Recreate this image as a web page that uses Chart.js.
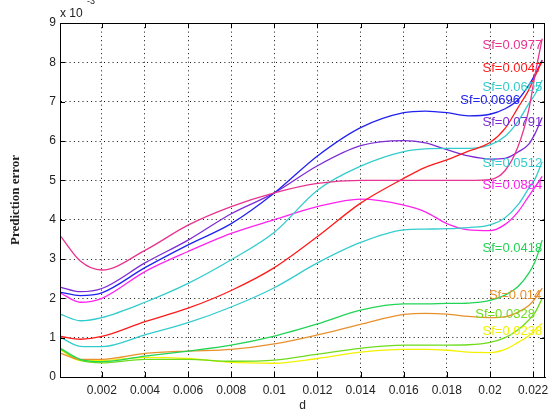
<!DOCTYPE html>
<html>
<head>
<meta charset="utf-8">
<script src="https://cdn.jsdelivr.net/npm/chart.js@4/dist/chart.umd.min.js"></script>
<style>
  html, body { margin: 0; padding: 0; background: #fff; }
  #wrap { width: 555px; height: 416px; }
</style>
</head>
<body>
<div id="wrap"><canvas id="c" width="555" height="416"></canvas></div>
<script>
// d values (x axis) shared by every curve
const dValues = [0.0001, 0.001, 0.002, 0.004, 0.006, 0.008, 0.010, 0.012, 0.014, 0.016,
                 0.017, 0.018, 0.019, 0.020, 0.0207, 0.0213, 0.0218, 0.0221, 0.02242];

// prediction error, in units of 1e-3
const errSf0977 = [3.57, 2.95, 2.72, 3.22, 3.86, 4.33, 4.68, 4.92, 5.0, 5.0, 5.0, 5.0, 5.0, 5.02, 5.25, 5.86, 6.8, 7.72, 8.6];
const errSf0047 = [1.03, 0.96, 1.03, 1.41, 1.75, 2.2, 2.78, 3.57, 4.42, 5.05, 5.33, 5.52, 5.74, 5.96, 6.32, 6.85, 7.3, 7.66, 8.05];
const errSf0605 = [1.59, 1.43, 1.51, 1.9, 2.38, 2.98, 3.68, 4.75, 5.36, 5.73, 5.8, 5.81, 5.81, 5.9, 6.12, 6.5, 6.95, 7.2, 7.55];
const errSf0696 = [2.15, 2.07, 2.14, 2.78, 3.36, 3.9, 4.68, 5.62, 6.34, 6.72, 6.76, 6.72, 6.64, 6.68, 6.82, 7.05, 7.42, 7.7, 8.06];
const errSf0791 = [2.28, 2.17, 2.25, 2.9, 3.48, 4.15, 4.68, 5.37, 5.88, 6.01, 5.95, 5.78, 5.62, 5.54, 5.56, 5.72, 5.92, 6.2, 6.6];
const errSf0512 = [1.0, 0.78, 0.77, 1.07, 1.38, 1.78, 2.27, 2.9, 3.42, 3.74, 3.76, 3.77, 3.8, 3.87, 4.05, 4.38, 4.8, 5.05, 5.47];
const errSf0884 = [2.13, 1.9, 2.0, 2.68, 3.19, 3.65, 4.0, 4.33, 4.52, 4.37, 4.2, 3.9, 3.74, 3.72, 3.88, 4.2, 4.6, 4.84, 5.1];
const errSf0418 = [0.72, 0.45, 0.39, 0.53, 0.66, 0.81, 1.04, 1.35, 1.7, 1.86, 1.86, 1.87, 1.88, 1.95, 2.08, 2.3, 2.64, 2.95, 3.48];
const errSf014  = [0.6, 0.45, 0.45, 0.6, 0.66, 0.7, 0.84, 1.07, 1.34, 1.59, 1.62, 1.6, 1.54, 1.51, 1.53, 1.65, 1.82, 2.0, 2.26];
const errSf0328 = [0.7, 0.42, 0.36, 0.45, 0.45, 0.4, 0.43, 0.58, 0.73, 0.81, 0.81, 0.81, 0.82, 0.88, 1.0, 1.2, 1.45, 1.65, 2.0];
const errSf0238 = [0.68, 0.42, 0.42, 0.5, 0.47, 0.37, 0.35, 0.47, 0.63, 0.7, 0.7, 0.68, 0.63, 0.62, 0.7, 0.88, 1.05, 1.2, 1.37];

const sfNames = ["Sf=0.0977", "Sf=0.0047", "Sf=0.0605", "Sf=0.0696", "Sf=0.0791", "Sf=0.0512",
                 "Sf=0.0884", "Sf=0.0418", "Sf=0.014", "Sf=0.0328", "Sf=0.0238"];
const sfSeries = [errSf0977, errSf0047, errSf0605, errSf0696, errSf0791, errSf0512,
                  errSf0884, errSf0418, errSf014, errSf0328, errSf0238];

const xTicks = [0.002, 0.004, 0.006, 0.008, 0.010, 0.012, 0.014, 0.016, 0.018, 0.020, 0.022];
const yTicks = [0, 1, 2, 3, 4, 5, 6, 7, 8, 9];

// where the "Sf=" labels sit (right edge d, middle y)
const labelD = [0.02242, 0.02242, 0.02242, 0.02139, 0.02242, 0.02242, 0.02242, 0.02242, 0.02238, 0.02208, 0.02242];
const labelY = [8.42, 7.85, 7.37, 7.03, 6.47, 5.43, 4.88, 3.27, 2.08, 1.59, 1.15];

const colors = ["#e8338f", "#ff1a1a", "#33cccc", "#2222f0", "#7d2bd4", "#33cccc",
                "#ff22ee", "#22d455", "#e8902c", "#6edc1c", "#f2f200"];

const datasets = sfSeries.map((vals, i) => ({
  label: sfNames[i],
  data: vals.map((v, j) => ({ x: dValues[j], y: v })),
  borderColor: colors[i],
  borderWidth: 1.3,
  pointRadius: 0,
  fill: false,
  cubicInterpolationMode: "monotone"
}));

const decor = {
  id: "decor",
  afterDraw(chart) {
    const ctx = chart.ctx, a = chart.chartArea;
    const xs = chart.scales.x, ys = chart.scales.y;
    ctx.save();
    // box
    ctx.strokeStyle = "#000";
    ctx.lineWidth = 1;
    ctx.strokeRect(a.left + 0.5, a.top + 0.5, a.right - a.left - 1, a.bottom - a.top);
    // inward ticks
    ctx.beginPath();
    xTicks.forEach(t => {
      const px = Math.round(xs.getPixelForValue(t)) + 0.5;
      ctx.moveTo(px, a.bottom); ctx.lineTo(px, a.bottom - 5);
      ctx.moveTo(px, a.top); ctx.lineTo(px, a.top + 5);
    });
    yTicks.forEach(t => {
      const py = Math.round(ys.getPixelForValue(t)) + 0.5;
      ctx.moveTo(a.left, py); ctx.lineTo(a.left + 5, py);
      ctx.moveTo(a.right, py); ctx.lineTo(a.right - 5, py);
    });
    ctx.stroke();

    // curve labels
    ctx.font = "13px Arial, 'Liberation Sans', sans-serif";
    ctx.textAlign = "right";
    ctx.textBaseline = "middle";
    sfNames.forEach((n, i) => {
      ctx.fillStyle = colors[i];
      ctx.fillText(n, xs.getPixelForValue(labelD[i]), ys.getPixelForValue(labelY[i]));
    });

    // exponent
    ctx.fillStyle = "#222";
    ctx.textAlign = "left";
    ctx.textBaseline = "alphabetic";
    ctx.font = "12px Arial, 'Liberation Sans', sans-serif";
    ctx.fillText("x 10", a.left, 17);
    ctx.font = "9px Arial, 'Liberation Sans', sans-serif";
    ctx.fillText("-3", a.left + 27, 4);

    // axis titles
    ctx.font = "12px Arial, 'Liberation Sans', sans-serif";
    ctx.textAlign = "center";
    ctx.fillText("d", (a.left + a.right) / 2, 409);
    ctx.translate(16, (a.top + a.bottom) / 2);
    ctx.rotate(-Math.PI / 2);
    ctx.font = "bold 13px 'Times New Roman', 'Liberation Serif', serif";
    ctx.textBaseline = "middle";
    ctx.fillText("Prediction error", 0, 0);
    ctx.restore();
  }
};

new Chart(document.getElementById("c"), {
  type: "line",
  data: { datasets },
  options: {
    responsive: false,
    animation: false,
    layout: { padding: { left: 0, right: 10, top: 23, bottom: 0 } },
    plugins: { legend: { display: false }, tooltip: { enabled: false } },
    scales: {
      x: {
        type: "linear",
        min: 0.00006,
        max: 0.02255,
        afterBuildTicks: s => { s.ticks = xTicks.map(v => ({ value: v })); },
        afterFit: s => { s.height = 39; },
        ticks: {
          color: "#222",
          padding: 6,
          maxRotation: 0,
          autoSkip: false,
          font: { size: 12, family: "Arial, 'Liberation Sans', sans-serif" },
          callback: v => String(+v.toFixed(4))
        },
        grid: { color: "#111", drawTicks: false, lineWidth: 1 },
        border: { color: "#000", width: 1, dash: [1, 3.3] }
      },
      y: {
        min: 0,
        max: 9,
        afterBuildTicks: s => { s.ticks = yTicks.map(v => ({ value: v })); },
        afterFit: s => { s.width = 60; },
        ticks: {
          color: "#222",
          padding: 4,
          font: { size: 12, family: "Arial, 'Liberation Sans', sans-serif" }
        },
        grid: { color: "#111", drawTicks: false, lineWidth: 1 },
        border: { color: "#000", width: 1, dash: [1, 3.3] }
      }
    }
  },
  plugins: [decor]
});
</script>
</body>
</html>
